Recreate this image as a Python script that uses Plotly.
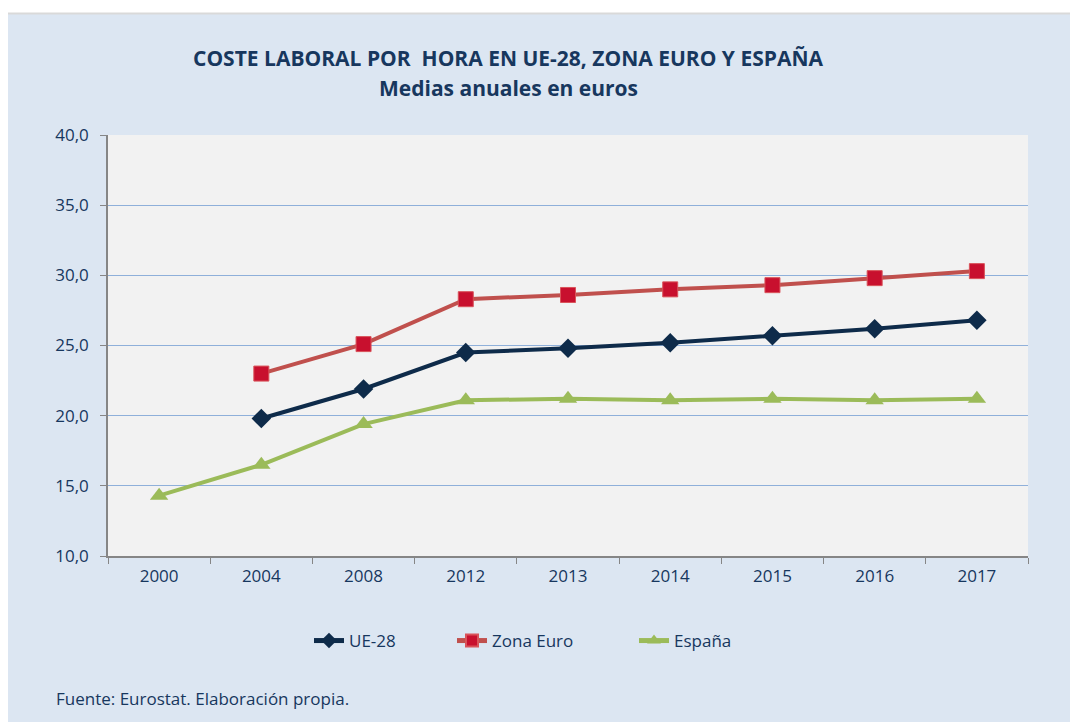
import plotly.graph_objects as go

years = ["2000", "2004", "2008", "2012", "2013", "2014", "2015", "2016", "2017"]
ue28 = [None, 19.8, 21.9, 24.5, 24.8, 25.2, 25.7, 26.2, 26.8]
zona_euro = [None, 23.0, 25.1, 28.3, 28.6, 29.0, 29.3, 29.8, 30.3]
espana = [14.3, 16.5, 19.4, 21.1, 21.2, 21.1, 21.2, 21.1, 21.2]

NAVY = "#17375e"
FONT = "Open Sans"
W, H = 1078, 722
OFF = 8  # page body margin
L, R, T, B = 100, 58, 127, 174
pw, ph = W - L - R, H - T - B


def px_x(p):
    """screen px -> paper fraction"""
    return (p - OFF - L) / pw


def px_y(p):
    return (H - B - (p - OFF)) / ph


fig = go.Figure()
fig.add_trace(go.Scatter(
    x=years, y=ue28, name="UE-28", mode="lines+markers", legend="legend",
    line=dict(color="#0e2b4a", width=4),
    marker=dict(symbol="diamond", size=15, color="#0e2b4a"),
))
fig.add_trace(go.Scatter(
    x=years, y=zona_euro, name="Zona Euro", mode="lines+markers", legend="legend2",
    line=dict(color="#c0504d", width=4),
    marker=dict(symbol="square", size=15, color="#c8102e",
                line=dict(color="#d9535a", width=1)),
))
fig.add_trace(go.Scatter(
    x=years, y=espana, name="España", mode="lines+markers", legend="legend3",
    line=dict(color="#9bbb59", width=4),
    marker=dict(symbol="triangle-up", size=16, color="#9bbb59"),
))


def leg(x_screen):
    return dict(orientation="h", x=px_x(x_screen), xanchor="left", y=px_y(641),
                yanchor="middle", bgcolor="rgba(0,0,0,0)", itemsizing="constant",
                font=dict(size=17, color=NAVY, family=FONT))


fig.update_layout(
    width=W, height=H,
    margin=dict(l=L, r=R, t=T, b=B),
    paper_bgcolor="#dce6f2",
    plot_bgcolor="#f2f2f2",
    separators=",.",
    font=dict(family=FONT, color=NAVY, size=17),
    showlegend=True,
    legend=leg(309),
    legend2=leg(452),
    legend3=leg(634),
    xaxis=dict(type="category", range=[-0.5, len(years) - 0.5], showgrid=False,
               showline=True, linecolor="#868686",
               linewidth=1.5, ticks="outside", tickson="boundaries", ticklen=6,
               tickcolor="#868686", tickfont=dict(size=17, color=NAVY),
               ticklabelstandoff=4, fixedrange=True),
    yaxis=dict(range=[10, 40], dtick=5, tickformat=".1f", showgrid=True,
               gridcolor="#8fb0da", gridwidth=1, showline=True, linecolor="#868686",
               linewidth=1.5, ticks="outside", ticklen=6, tickcolor="#868686",
               tickfont=dict(size=17, color=NAVY), ticklabelstandoff=8,
               zeroline=False, fixedrange=True),
    shapes=[
        dict(type="rect", xref="paper", yref="paper", x0=px_x(0), x1=px_x(W + 20),
             y0=px_y(13), y1=px_y(0), fillcolor="white", line=dict(width=0), layer="below"),
        dict(type="line", xref="paper", yref="paper", x0=px_x(0), x1=px_x(W + 20),
             y0=px_y(13.5), y1=px_y(13.5), line=dict(color="#d9d9d9", width=2)),
    ],
    annotations=[
        dict(text="<b>COSTE LABORAL POR  HORA EN UE-28, ZONA EURO Y ESPAÑA</b>",
             xref="paper", yref="paper", x=px_x(508), y=px_y(58), showarrow=False,
             xanchor="center", yanchor="middle", font=dict(size=21, color=NAVY, family=FONT)),
        dict(text="<b>Medias anuales en euros</b>",
             xref="paper", yref="paper", x=px_x(508), y=px_y(88), showarrow=False,
             xanchor="center", yanchor="middle", font=dict(size=21, color=NAVY, family=FONT)),
        dict(text="Fuente: Eurostat. Elaboración propia.",
             xref="paper", yref="paper", x=px_x(54), y=px_y(698), showarrow=False,
             xanchor="left", yanchor="middle", font=dict(size=17, color=NAVY, family=FONT)),
    ],
)

fig.write_html("out.html")
